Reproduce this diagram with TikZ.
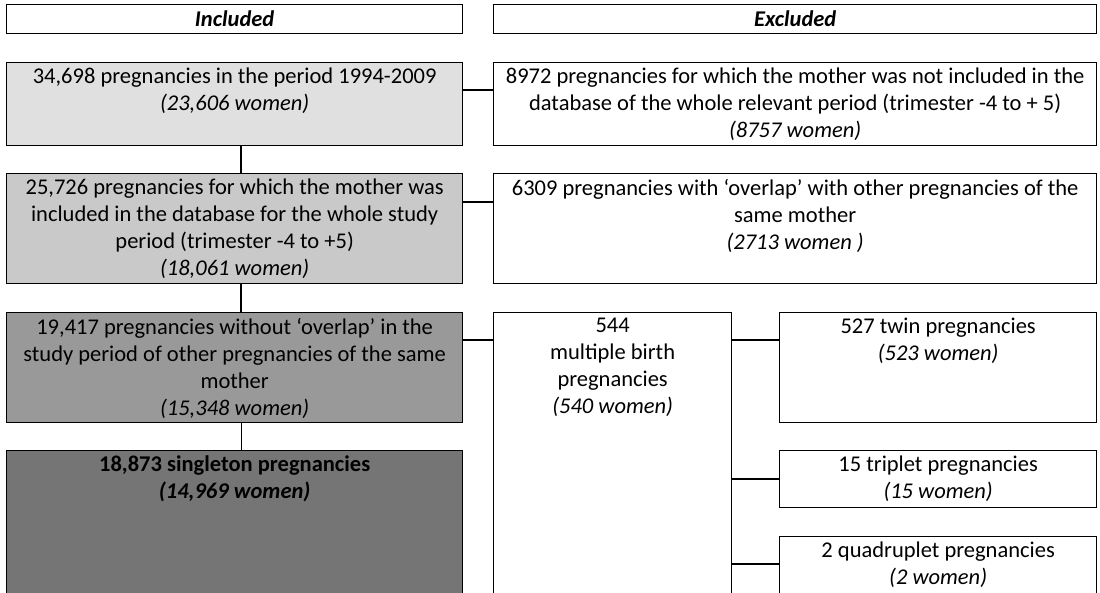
\documentclass[tikz,border=0pt]{standalone}
\usepackage{fontspec}
\setmainfont{Carlito}
\usetikzlibrary{calc}
\begin{document}
\begin{tikzpicture}[x=1pt,y=-1pt,
  frame/.style={draw=black,line width=1.3pt,inner sep=0pt,anchor=north west},
  txt/.style={anchor=north,align=center,inner sep=0pt,font=\fontsize{22.5}{27}\selectfont},
  conn/.style={draw=black,line width=1.3pt},
  thinconn/.style={draw=black,line width=0.8pt}]
\useasboundingbox (0,0) rectangle (1100,592);
\clip (0,0) rectangle (1100,592);
% headers
\node[frame,minimum width=456pt,minimum height=29pt] (hin) at (6,4) {};
\node[frame,minimum width=603pt,minimum height=29pt] (hex) at (493,4) {};
\node[txt,anchor=center] (thin) at (hin.center) {\textbf{\textit{Included}}};
\node[txt,anchor=center] (thex) at (hex.center) {\textbf{\textit{Excluded}}};
% left column
\node[frame,fill=black!12,minimum width=456pt,minimum height=83pt] (b1) at (6,62) {};
\node[frame,fill=black!21,minimum width=456pt,minimum height=110pt] (b2) at (6,173) {};
\node[frame,fill=black!40,minimum width=456pt,minimum height=110pt] (b3) at (6,312) {};
\node[frame,fill=black!54,minimum width=456pt,minimum height=180pt] (b4) at (6,450) {};
% right column
\node[frame,minimum width=603pt,minimum height=83pt] (e1) at (493,62) {};
\node[frame,minimum width=603pt,minimum height=110pt] (e2) at (493,173) {};
\node[frame,minimum width=238pt,minimum height=320pt] (m) at (493,312) {};
\node[frame,minimum width=317pt,minimum height=110pt] (tw) at (779,312) {};
\node[frame,minimum width=317pt,minimum height=57pt] (tr) at (779,450) {};
\node[frame,minimum width=317pt,minimum height=100pt] (qu) at (779,536) {};
% texts
\node[txt] (t1) at ($(b1.north)+(0,6)$) {34,698 pregnancies in the period 1994-2009\\\textit{(23,606 women)}};
\node[txt] (t2) at ($(b2.north)+(0,6)$) {25,726 pregnancies for which the mother was\\included in the database for the whole study\\period (trimester -4 to +5)\\\textit{(18,061 women)}};
\node[txt] (t3) at ($(b3.north)+(0,6)$) {19,417 pregnancies without ‘overlap’ in the\\study period of other pregnancies of the same\\mother\\\textit{(15,348 women)}};
\node[txt] (t4) at ($(b4.north)+(0,6)$) {\textbf{18,873 singleton pregnancies}\\\textbf{\textit{(14,969 women)}}};
\node[txt] (te1) at ($(e1.north)+(0,6)$) {8972 pregnancies for which the mother was not included in the\\database of the whole relevant period (trimester -4 to + 5)\\\textit{(8757 women)}};
\node[txt] (te2) at ($(e2.north)+(0,6)$) {6309 pregnancies with ‘overlap’ with other pregnancies of the\\same mother\\\textit{(2713 women )}};
\node[txt] (tm) at ($(m.north)+(0,6)$) {544\\multiple birth\\pregnancies\\\textit{(540 women)}};
\node[txt] (ttw) at ($(tw.north)+(0,6)$) {527 twin pregnancies\\\textit{(523 women)}};
\node[txt] (ttr) at ($(tr.north)+(0,6)$) {15 triplet pregnancies\\\textit{(15 women)}};
\node[txt] (tqu) at ($(qu.north)+(0,6)$) {2 quadruplet pregnancies\\\textit{(2 women)}};
% connectors
\draw[conn] (b1.south -| 241,0) -- (b2.north -| 241,0);
\draw[conn] (b2.south -| 241,0) -- (b3.north -| 241,0);
\draw[thinconn] (b3.south -| 241,0) -- (b4.north -| 241,0);
\draw[conn] ($(b1.north east)+(0,28)$) -- ($(e1.north west)+(0,28)$);
\draw[conn] ($(b2.north east)+(0,29)$) -- ($(e2.north west)+(0,29)$);
\draw[conn] ($(b3.north east)+(0,28)$) -- ($(m.north west)+(0,28)$);
\draw[conn] ($(m.north east)+(0,28)$) -- ($(tw.north west)+(0,28)$);
\draw[conn] ($(m.north east)+(0,167)$) -- ($(tr.north west)+(0,29)$);
\draw[conn] ($(m.north east)+(0,252)$) -- ($(qu.north west)+(0,28)$);
\end{tikzpicture}
\end{document}
